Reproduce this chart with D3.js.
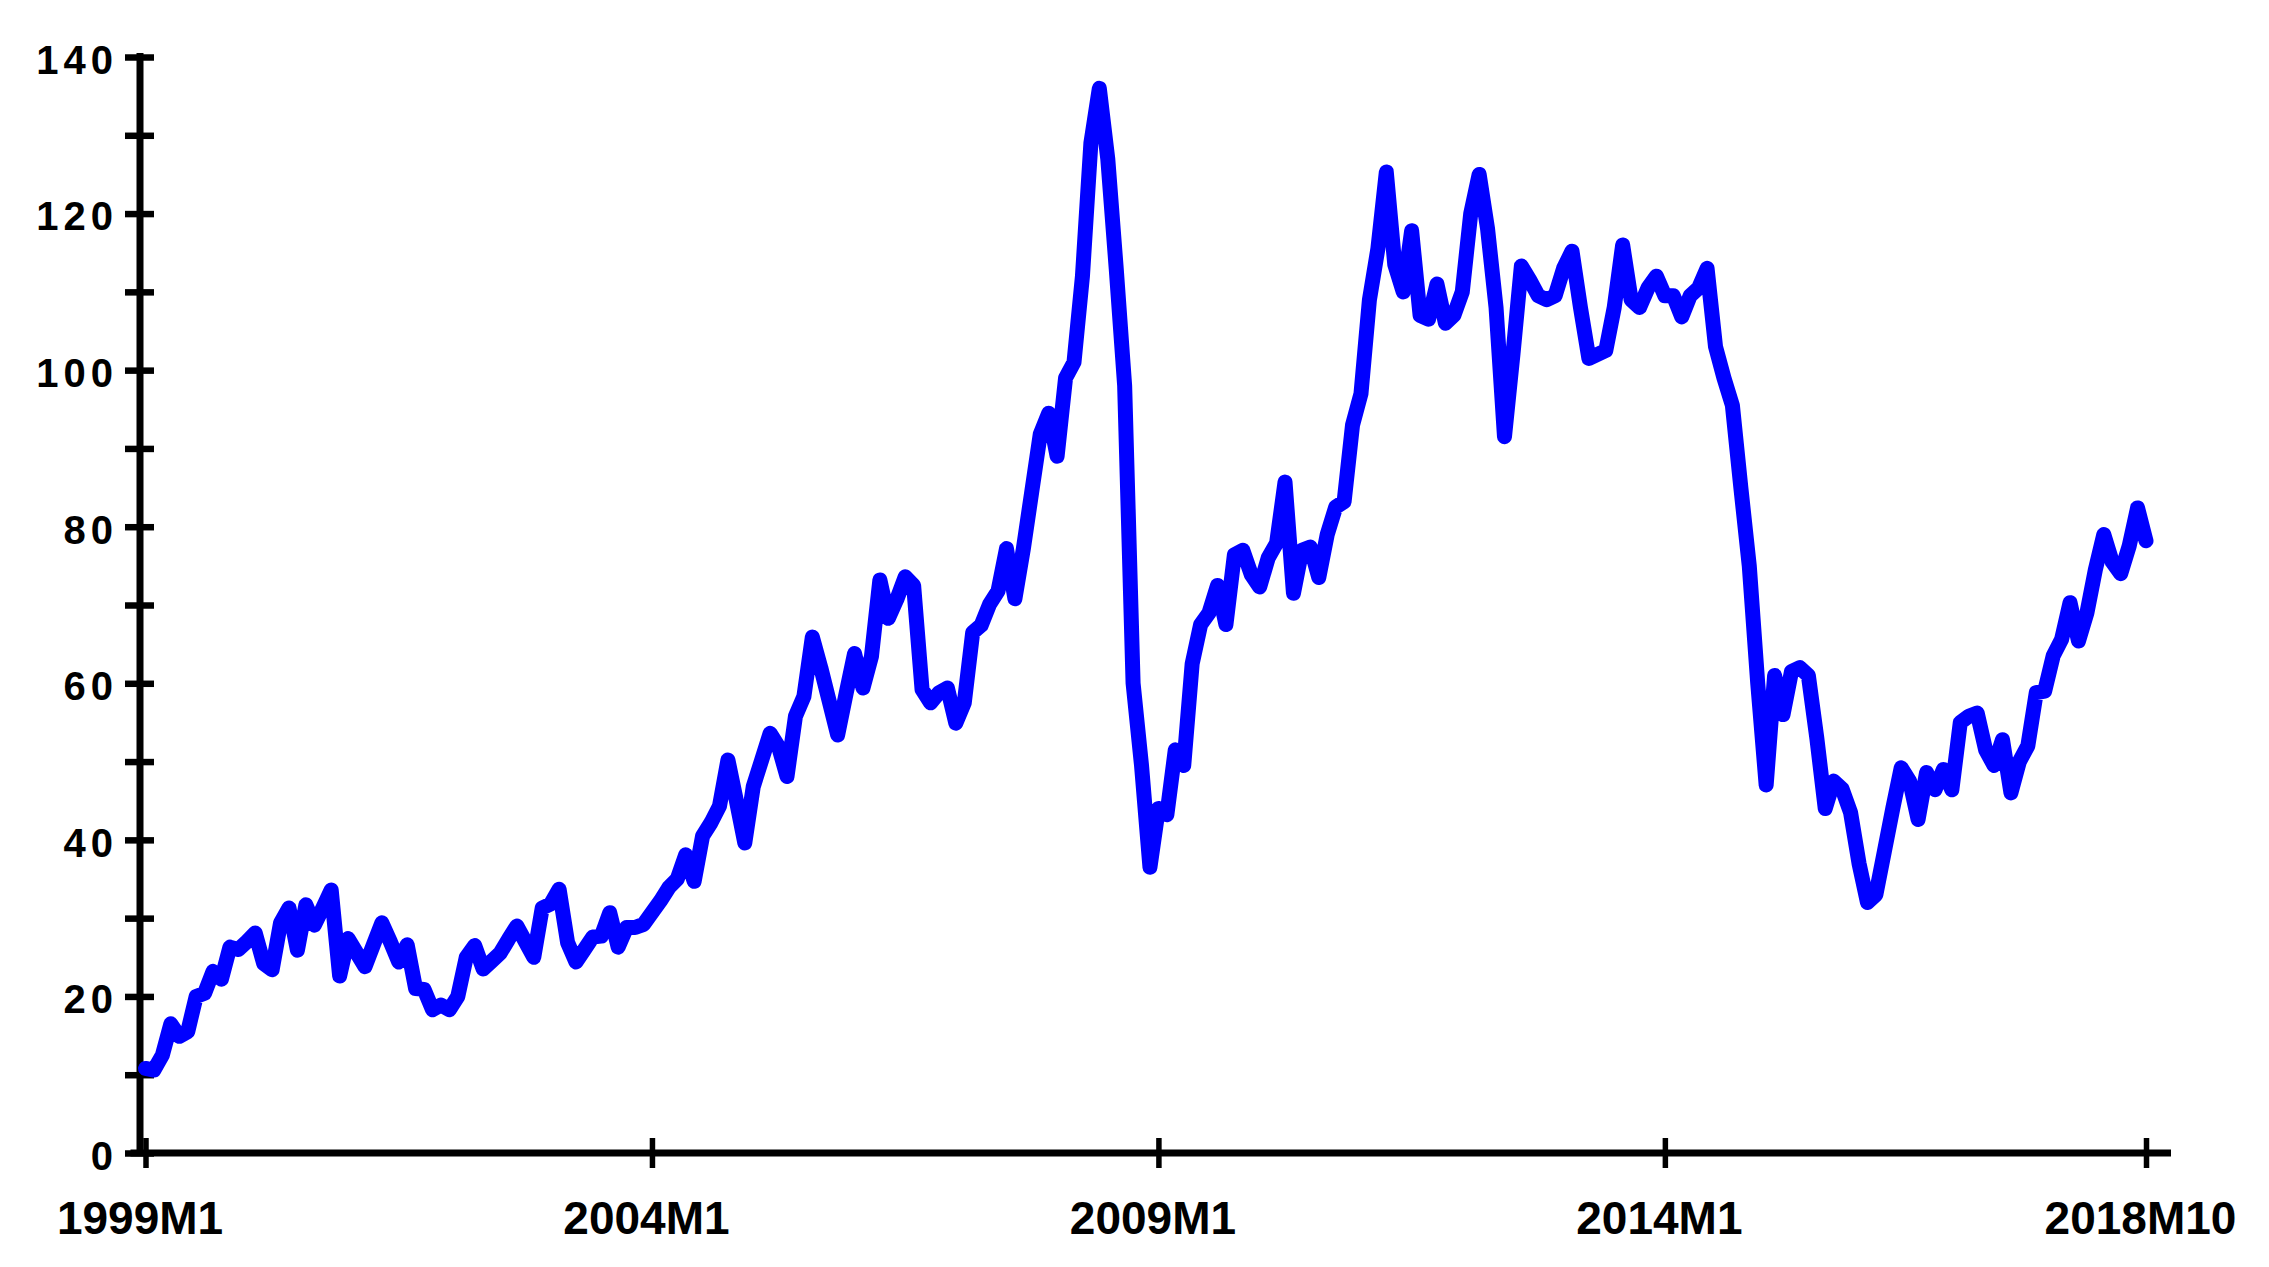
<!DOCTYPE html>
<html>
<head>
<meta charset="utf-8">
<script src="https://cdn.jsdelivr.net/npm/d3@7"></script>
<style>
  html, body { margin: 0; padding: 0; background: #ffffff; }
  svg { display: block; }
  .lbl text { font-family: "Liberation Sans", Arial, sans-serif; font-weight: bold; fill: #000; }
</style>
</head>
<body>
<svg id="chart" width="2269" height="1267"></svg>
<script>
// Monthly values, 1999M1 .. 2018M10
const v1999 = [10.8, 10.6, 12.5, 16.5, 14.9, 15.5, 20.0, 20.4, 23.2, 22.2, 26.3, 26.0];
const v2000 = [27.0, 28.1, 24.2, 23.4, 29.4, 31.3, 25.9, 31.7, 29.1, 31.3, 33.6, 22.6];
const v2001 = [27.4, 25.6, 23.8, 26.6, 29.4, 27.0, 24.4, 26.6, 21.0, 20.9, 18.3, 18.9];
const v2002 = [18.3, 20.0, 25.0, 26.5, 23.5, 24.5, 25.5, 27.3, 29.0, 27.0, 25.0, 31.3];
const v2003 = [31.8, 33.7, 26.9, 24.4, 26.0, 27.6, 27.7, 30.7, 26.3, 28.8, 28.8, 29.2];
const v2004 = [30.7, 32.2, 33.9, 35.0, 38.1, 34.7, 40.5, 42.2, 44.3, 50.2, 45.0, 39.6];
const v2005 = [46.8, 50.2, 53.6, 51.9, 48.1, 55.8, 58.3, 65.9, 62.0, 57.7, 53.4, 58.7];
const v2006 = [63.8, 59.4, 63.4, 73.2, 68.3, 70.7, 73.6, 72.5, 59.2, 57.5, 58.8, 59.4];
const v2007 = [54.9, 57.5, 66.5, 67.4, 70.1, 71.8, 77.2, 70.8, 77.2, 84.5, 91.8, 94.5];
const v2008 = [89.0, 99.0, 101.0, 112.0, 129.0, 136.0, 127.0, 113.0, 98.0, 60.0, 49.5, 36.5];
const v2009 = [44.0, 43.2, 51.5, 49.5, 62.5, 67.5, 69.0, 72.5, 67.5, 76.4, 77.0, 73.9];
const v2010 = [72.3, 76.0, 77.9, 85.7, 71.5, 77.0, 77.4, 73.5, 79.0, 82.5, 83.2, 93.0];
const v2011 = [97.0, 109.0, 115.5, 125.3, 113.5, 110.0, 117.8, 107.0, 106.5, 111.0, 106.0, 107.0];
const v2012 = [110.0, 120.0, 125.0, 118.0, 108.0, 91.5, 102.0, 113.3, 111.5, 109.5, 109.0, 109.5];
const v2013 = [113.0, 115.2, 108.0, 101.5, 102.0, 102.5, 108.0, 116.0, 109.0, 108.0, 110.5, 112.0];
const v2014 = [109.5, 109.5, 106.8, 109.5, 110.5, 113.0, 103.0, 99.0, 95.5, 85.0, 75.0, 60.0];
const v2015 = [47.0, 61.0, 56.0, 61.5, 62.0, 61.0, 53.0, 44.0, 47.5, 46.5, 43.5, 37.0];
const v2016 = [32.0, 33.0, 38.5, 44.0, 49.2, 47.5, 42.6, 48.6, 46.4, 49.0, 46.4, 55.0];
const v2017 = [55.8, 56.2, 51.5, 49.5, 52.8, 46.0, 50.0, 52.0, 58.8, 59.0, 63.5, 65.6];
const v2018 = [70.3, 65.4, 69.0, 74.5, 79.0, 75.5, 74.0, 77.5, 82.4, 78.2];

const values = [].concat(v1999, v2000, v2001, v2002, v2003, v2004, v2005, v2006, v2007,
  v2008, v2009, v2010, v2011, v2012, v2013, v2014, v2015, v2016, v2017, v2018);

// month categories "1999M1" ... "2018M10"
const months = values.map((d, i) => (1999 + Math.floor(i / 12)) + "M" + (i % 12 + 1));

const xTickLabels = ["1999M1", "2004M1", "2009M1", "2014M1", "2018M10"];
const yTickValues = [0, 10, 20, 30, 40, 50, 60, 70, 80, 90, 100, 110, 120, 130, 140];
const yLabelValues = [0, 20, 40, 60, 80, 100, 120, 140];

const svg = d3.select("#chart");
svg.append("rect").attr("width", 2269).attr("height", 1267).attr("fill", "#fff");

const x = d3.scalePoint().domain(months).range([145.5, 2146]);
const y = d3.scaleLinear().domain([0, 140]).range([1153, 57]);

// Y axis
const yAxis = svg.append("g").attr("class", "lbl")
  .attr("transform", "translate(140,0)")
  .call(d3.axisLeft(y).tickValues(yTickValues).tickSize(15).tickSizeOuter(0).tickPadding(7)
    .tickFormat(d => yLabelValues.includes(d) ? d : ""));
yAxis.select(".domain").attr("stroke", "#000").attr("stroke-width", 7)
  .attr("d", `M0,${y(140) - 4}V${y(0) + 3}`);
yAxis.selectAll(".tick line").attr("x1", 14).attr("stroke", "#000").attr("stroke-width", 6.5);
yAxis.selectAll(".tick text").attr("font-size", 40).attr("letter-spacing", 5).attr("dy", "0.41em");

// X axis
const xAxis = svg.append("g").attr("class", "lbl")
  .attr("transform", `translate(0,${y(0)})`)
  .call(d3.axisBottom(x).tickValues(xTickLabels).tickSize(15).tickSizeOuter(0).tickPadding(33));
xAxis.select(".domain").attr("stroke", "#000").attr("stroke-width", 7)
  .attr("d", `M${x(xTickLabels[0]) - 15},0H${x(xTickLabels[4]) + 25}`);
xAxis.selectAll(".tick line").attr("y1", -15).attr("stroke", "#000").attr("stroke-width", 5.5);
xAxis.selectAll(".tick text").attr("font-size", 46).attr("dx", -6);

// Series line
const line = d3.line().x((d, i) => x(months[i])).y(d => y(d));
svg.append("path").datum(values)
  .attr("d", line)
  .attr("fill", "none")
  .attr("stroke", "#0000FF")
  .attr("stroke-width", 15)
  .attr("stroke-linejoin", "round")
  .attr("stroke-linecap", "round");
</script>
</body>
</html>
